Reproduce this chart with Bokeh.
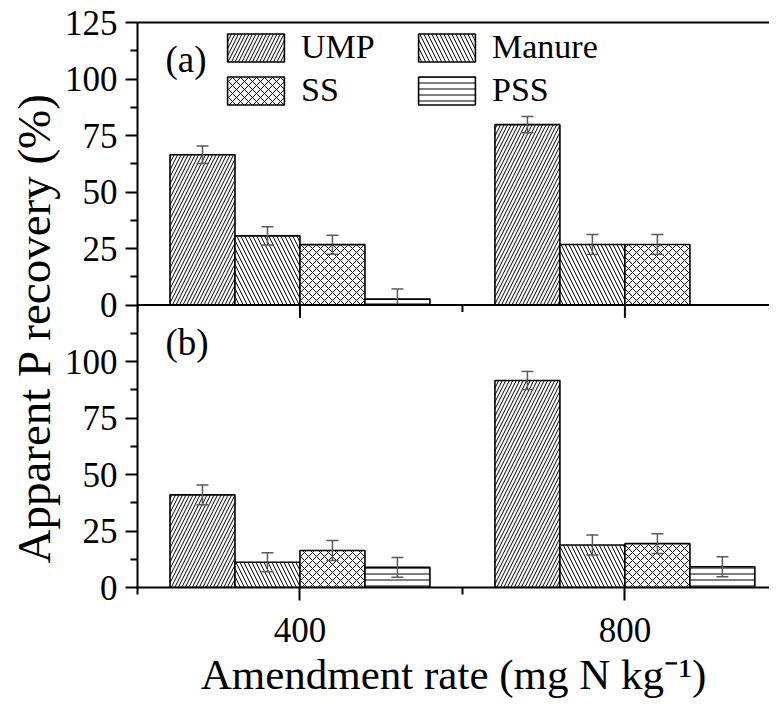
import math
import numpy as np
from bokeh.plotting import figure
from bokeh.models import (Range1d, LinearAxis, FixedTicker, Span, Label, Legend, LegendItem,
                          Whisker, ColumnDataSource, TeeHead, Title)
from bokeh.embed import file_html
from bokeh.resources import INLINE

# ---------------- data ----------------
rates = [400, 800]
rate_labels = ["400", "800"]
series = ["UMP", "Manure", "SS", "PSS"]

# panel (a)
ump_a = [66.5, 79.8]
ump_a_err = [3.9, 3.6]
manure_a = [30.6, 26.8]
manure_a_err = [4.0, 4.4]
ss_a = [26.7, 26.8]
ss_a_err = [4.2, 4.4]
pss_a = [2.6, float("nan")]
pss_a_err = [4.5, float("nan")]

# panel (b)
ump_b = [41.0, 91.6]
ump_b_err = [4.4, 4.0]
manure_b = [11.2, 18.8]
manure_b_err = [4.2, 4.4]
ss_b = [16.4, 19.4]
ss_b_err = [4.4, 4.4]
pss_b = [8.9, 9.2]
pss_b_err = [4.4, 4.4]

top_ticks = [0, 25, 50, 75, 100, 125]
bottom_ticks = [0, 25, 50, 75, 100]
x_minor = [200, 600, 1000]

# ---------------- style ----------------
FONT = "Liberation Serif"
PANEL = 125.0
BAR_W = 80
hatches = {"UMP": ("/", 7), "Manure": ("\\", 8), "SS": ("x", 8), "PSS": ("-", 6)}
ERR_COLOR = "#5a5a5a"

p = figure(width=769, height=709, output_backend="svg", toolbar_location=None,
           x_range=Range1d(200, 978), y_range=Range1d(0, 2 * PANEL),
           min_border_left=137, min_border_right=0, min_border_top=22, min_border_bottom=122)
p.extra_y_ranges = {"top": Range1d(-PANEL, PANEL)}
p.outline_line_color = None
p.xgrid.visible = False
p.ygrid.visible = False
p.background_fill_color = "white"
p.border_fill_color = "white"

data_a = {"UMP": (ump_a, ump_a_err), "Manure": (manure_a, manure_a_err),
          "SS": (ss_a, ss_a_err), "PSS": (pss_a, pss_a_err)}
data_b = {"UMP": (ump_b, ump_b_err), "Manure": (manure_b, manure_b_err),
          "SS": (ss_b, ss_b_err), "PSS": (pss_b, pss_b_err)}

legend_renderers = {}
for panel, data, rng in (("a", data_a, "top"), ("b", data_b, "default")):
    for i, name in enumerate(series):
        vals, errs = data[name]
        xs = [r + (i - 1.5) * BAR_W for r in rates]
        pat, scale = hatches[name]
        r = p.vbar(x=xs, top=vals, bottom=0, width=BAR_W, y_range_name=rng,
                   fill_color="white", line_color="black", line_width=1.6,
                   hatch_pattern=pat, hatch_scale=scale, hatch_weight=1.0, hatch_color="black")
        if panel == "a":
            legend_renderers[name] = r
        base, up, lo = [], [], []
        for x, v, e in zip(xs, vals, errs):
            if math.isfinite(v) and math.isfinite(e):
                base.append(x)
                up.append(v + e)
                lo.append(max(v - e, 0.0))
        src = ColumnDataSource(dict(base=base, upper=up, lower=lo))
        w = Whisker(source=src, base="base", upper="upper", lower="lower",
                    y_range_name=rng, line_color=ERR_COLOR, line_width=1.5, level="annotation",
                    upper_head=TeeHead(size=12, line_color=ERR_COLOR, line_width=1.5),
                    lower_head=TeeHead(size=12, line_color=ERR_COLOR, line_width=1.5))
        p.add_layout(w)

# ---------------- axes ----------------
yt = [float(t) for t in bottom_ticks] + [PANEL + t for t in top_ticks]
overrides = {float(t): str(t) for t in bottom_ticks}
overrides.update({PANEL + t: str(t) for t in top_ticks})
minor = [t + 12.5 for t in np.arange(0, 2 * PANEL, 25)]
yax = p.yaxis[0]
yax.ticker = FixedTicker(ticks=yt, minor_ticks=minor)
yax.major_label_overrides = overrides
yax.major_label_text_font = FONT
yax.major_label_text_font_size = "35px"
yax.major_label_text_color = "black"
yax.major_label_standoff = 8
yax.axis_line_width = 2
yax.major_tick_line_width = 2
yax.minor_tick_line_width = 2
yax.major_tick_out = 12
yax.major_tick_in = 0
yax.minor_tick_out = 7
yax.minor_tick_in = 0

xax = p.xaxis[0]
xax.ticker = FixedTicker(ticks=rates, minor_ticks=x_minor)
xax.major_label_overrides = {r: l for r, l in zip(rates, rate_labels)}
xax.major_label_text_font = FONT
xax.major_label_text_font_size = "35px"
xax.major_label_text_color = "black"
xax.major_label_standoff = 17
xax.axis_line_width = 2
xax.major_tick_line_width = 2
xax.minor_tick_line_width = 2
xax.major_tick_out = 13
xax.major_tick_in = 0
xax.minor_tick_out = 7
xax.minor_tick_in = 0
xax.axis_label = "Amendment rate (mg N kg\u207b\u00b9)"
xax.axis_label_text_font = FONT
xax.axis_label_text_font_size = "43px"
xax.axis_label_text_font_style = "normal"
xax.axis_label_text_color = "black"
xax.axis_label_standoff = 6

top_axis = LinearAxis(ticker=FixedTicker(ticks=[]), axis_line_width=2,
                      major_tick_out=0, major_tick_in=0, minor_tick_out=0, minor_tick_in=0)
p.add_layout(top_axis, "above")

# junction between panels: x axis of panel (a)
p.add_layout(Span(location=PANEL, dimension="width", line_color="black", line_width=2))
p.ray(x=rates, y=[PANEL] * len(rates), length=13, length_units="screen",
      angle=-math.pi / 2, line_color="black", line_width=2)
p.ray(x=x_minor, y=[PANEL] * len(x_minor), length=7, length_units="screen",
      angle=-math.pi / 2, line_color="black", line_width=2)

# y axis title (shared by both panels)
p.add_layout(Title(text="Apparent P recovery (%)", align="left", offset=24, standoff=3,
                   text_font=FONT, text_font_size="47px", text_font_style="normal",
                   text_color="black"), "left")

# panel letters
p.add_layout(Label(x=28, y=528, x_units="screen", y_units="screen", text="(a)",
                   text_align="left", text_baseline="middle",
                   text_font=FONT, text_font_size="37px", text_color="black"))
p.add_layout(Label(x=28, y=245, x_units="screen", y_units="screen", text="(b)",
                   text_align="left", text_baseline="middle",
                   text_font=FONT, text_font_size="37px", text_color="black"))

legend = Legend(items=[LegendItem(label=n, renderers=[legend_renderers[n]]) for n in series],
                location=(83, 478), orientation="horizontal", ncols=2,
                glyph_width=71, glyph_height=35, label_standoff=10, spacing=5,
                label_width=105, padding=0, margin=0, border_line_color=None,
                background_fill_alpha=0,
                label_text_font=FONT, label_text_font_size="34px", label_text_color="black",
                label_height=35)
p.add_layout(legend)

open("out.html", "w").write(file_html(p, INLINE))
